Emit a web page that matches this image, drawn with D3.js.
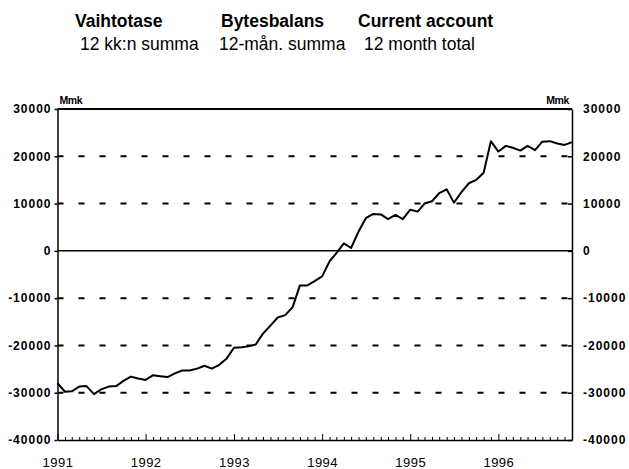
<!DOCTYPE html>
<html>
<head>
<meta charset="utf-8">
<script src="https://cdn.jsdelivr.net/npm/d3@7"></script>
<style>
  body { margin: 0; background: #fff; }
  svg { font-family: "Liberation Sans", Arial, sans-serif; }
</style>
</head>
<body>
<div id="chart"></div>
<script>
// monthly 12-month totals, Mmk, Jan 1991 .. Nov 1996
let values = [
  -28000, -29800, -29700, -28700, -28600, -30300, -29300, -28700, -28600, -27500, -26600, -27000,
  -27300, -26300, -26500, -26700, -25900, -25300, -25300, -24900, -24300, -24900, -24100, -22800,
  -20500, -20400, -20200, -19800, -17500, -15800, -14100, -13600, -11900, -7300, -7300, -6400,
  -5400, -2200, -500, 1600, 600, 4100, 6900, 7800, 7700, 6700, 7600, 6700,
  8700, 8300, 10000, 10500, 12200, 13000, 10200, 12400, 14300, 15000, 16500, 23200,
  21000, 22200, 21800, 21200, 22200, 21300, 23100, 23200, 22700, 22400, 23000
];
let startMonth = new Date(1991, 0, 1);
let yTicks = [-40000, -30000, -20000, -10000, 0, 10000, 20000, 30000];
let titles = ["Vaihtotase", "Bytesbalans", "Current account"];
let subtitles = ["12 kk:n summa", "12-mån. summa", "12 month total"];

let data = values.map(function(v, i){
    return {date: d3.timeMonth.offset(startMonth, i), value: v};
});

let W = 629, H = 469;
let margin = ({top: 109, right: 57, bottom: 29, left: 57.5});

let svg = d3.select('#chart')
    .append('svg')
        .attr("width", W)
        .attr("height", H);

//titles, left aligned in three columns
let titleX = [75, 221, 358];
let subX = [80, 219, 364];
svg.append('g').selectAll('text')
    .data(titles).enter().append('text')
        .attr("x", function(d, i){ return titleX[i]; })
        .attr("y", 27)
        .attr("font-size", "17.5px")
        .attr("font-weight", "bold")
        .text(function(d){ return d; });
svg.append('g').selectAll('text')
    .data(subtitles).enter().append('text')
        .attr("x", function(d, i){ return subX[i]; })
        .attr("y", 50)
        .attr("font-size", "17.5px")
        .text(function(d){ return d; });

let x = d3.scaleTime()
    .domain([data[0].date, data[data.length - 1].date])
    .range([margin.left, W - margin.right]);
let y = d3.scaleLinear()
    .domain([-40000, 30000])
    .range([H - margin.bottom, margin.top]);

//grid lines
svg.append('g').selectAll('line')
    .data(yTicks.filter(function(d){ return d > -40000 && d < 30000; }))
    .enter().append('line')
        .attr("x1", x.range()[0])
        .attr("x2", x.range()[1])
        .attr("y1", function(d){ return y(d); })
        .attr("y2", function(d){ return y(d); })
        .attr("stroke", "#000")
        .attr("stroke-width", function(d){ return d === 0 ? 1.5 : 2; })
        .attr("stroke-dasharray", function(d){ return d === 0 ? null : "6,15"; });

//top frame line
svg.append('line')
    .attr("x1", x.range()[0]).attr("x2", x.range()[1])
    .attr("y1", y(30000)).attr("y2", y(30000))
    .attr("stroke", "#000").attr("stroke-width", 2);

//left axis
let yl = svg.append('g')
    .attr("transform", "translate(" + margin.left + ",0)")
    .call(d3.axisLeft(y).tickValues(yTicks).tickSizeInner(3).tickSizeOuter(0).tickPadding(3));
//right axis
let yr = svg.append('g')
    .attr("transform", "translate(" + (W - margin.right) + ",0)")
    .call(d3.axisRight(y).tickValues(yTicks).tickSizeInner(-4).tickSizeOuter(0).tickPadding(11));
[yl, yr].forEach(function(ax){
    ax.select('.domain').attr("stroke-width", 1.5);
    ax.selectAll('.tick line').attr("stroke-width", 1.5);
    ax.selectAll('.tick text')
        .attr("font-size", "12px")
        .attr("font-weight", "bold")
        .attr("letter-spacing", "1px")
        .attr("font-family", "Liberation Sans, Arial, sans-serif")
        .attr("fill", "#000")
        .text(function(d){ return d < 0 ? "-" + Math.abs(d) : d; });
});

//bottom axis, month ticks pointing up
let xa = svg.append('g')
    .attr("transform", "translate(0," + (H - margin.bottom) + ")")
    .call(d3.axisBottom(x).ticks(d3.timeMonth.every(1)).tickSizeInner(-3).tickSizeOuter(0).tickPadding(18)
        .tickFormat(function(d){ return d.getMonth() === 0 ? d.getFullYear() : ""; }));
xa.select('.domain').attr("stroke-width", 1.5);
xa.selectAll('.tick line')
    .attr("y2", function(d){ return d.getMonth() === 0 ? -6 : -3; });
xa.selectAll('.tick text')
    .attr("font-size", "13px")
    .attr("letter-spacing", "0.5px")
    .attr("font-family", "Liberation Sans, Arial, sans-serif")
    .attr("fill", "#000");

//unit labels
svg.append('text')
    .attr("x", margin.left + 2).attr("y", margin.top - 5)
    .attr("font-size", "10.5px").attr("font-weight", "bold")
    .attr("letter-spacing", "-0.4px")
    .text("Mmk");
svg.append('text')
    .attr("x", W - margin.right - 3).attr("y", margin.top - 5)
    .attr("text-anchor", "end")
    .attr("font-size", "10.5px").attr("font-weight", "bold")
    .attr("letter-spacing", "-0.4px")
    .text("Mmk");

//line
let line = d3.line()
    .x(function(d){ return x(d.date); })
    .y(function(d){ return y(d.value); });
svg.append('path')
    .datum(data)
    .attr("fill", "none")
    .attr("stroke", "#000")
    .attr("stroke-width", 2)
    .attr("stroke-linejoin", "round")
    .attr("d", line);
</script>
</body>
</html>
